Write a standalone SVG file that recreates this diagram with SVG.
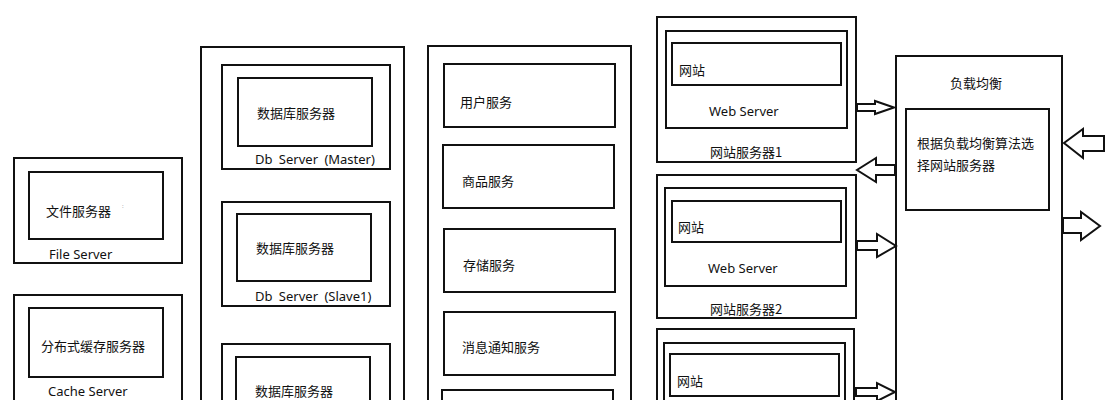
<svg xmlns="http://www.w3.org/2000/svg" width="1116" height="400" viewBox="0 0 1116 400">
<style>
.b{fill:#fff;stroke:#111;stroke-width:2}
.t{font-family:"Noto Sans CJK SC","Noto Sans",sans-serif;font-size:13px;fill:#111}
.e{font-family:"Noto Sans","Open Sans",sans-serif;font-size:13px;fill:#111}
.a{fill:#fff;stroke:#111;stroke-width:2;stroke-linejoin:miter}
</style>
<rect width="1116" height="400" fill="#fff"/>
<g id="file-server">
<rect class="b" x="14" y="158" width="168" height="105"/>
<rect class="b" x="29" y="172" width="134" height="67"/>
<text class="t" x="46" y="216">文件服务器</text>
<text x="122" y="208" font-family="Noto Sans,sans-serif" font-size="6" fill="#999">:</text>
<text class="e" x="49" y="259">File Server</text>
</g>
<g id="cache-server">
<rect class="b" x="14" y="295" width="168" height="115"/>
<rect class="b" x="29" y="308" width="134" height="69"/>
<text class="t" x="41" y="351">分布式缓存服务器</text>
<text class="e" x="48" y="396">Cache Server</text>
</g>
<g id="db-cluster">
<rect class="b" x="201" y="47" width="203" height="370"/>
</g>
<g id="db-master">
<rect class="b" x="222" y="65" width="168" height="104"/>
<rect class="b" x="238" y="78" width="134" height="68"/>
<text class="t" x="257" y="118">数据库服务器</text>
<text class="e" x="255" y="164" word-spacing="3">Db Server (Master)</text>
</g>
<g id="db-slave1">
<rect class="b" x="222" y="202" width="168" height="104"/>
<rect class="b" x="237" y="214" width="134" height="67"/>
<text class="t" x="256" y="253">数据库服务器</text>
<text class="e" x="255" y="301" word-spacing="3">Db Server (Slave1)</text>
</g>
<g id="db-slave2">
<rect class="b" x="222" y="344" width="168" height="80"/>
<rect class="b" x="236" y="357" width="134" height="60"/>
<text class="t" x="255" y="396">数据库服务器</text>
</g>
<g id="service-cluster">
<rect class="b" x="428" y="46" width="203" height="370"/>
</g>
<g id="user-service">
<rect class="b" x="444" y="64" width="171" height="63"/>
<text class="t" x="460" y="107">用户服务</text>
</g>
<g id="product-service">
<rect class="b" x="443" y="145" width="171" height="63"/>
<text class="t" x="462" y="186">商品服务</text>
</g>
<g id="storage-service">
<rect class="b" x="444" y="229" width="171" height="63"/>
<text class="t" x="463" y="270">存储服务</text>
</g>
<g id="message-service">
<rect class="b" x="444" y="312" width="171" height="63"/>
<text class="t" x="462" y="352">消息通知服务</text>
</g>
<g id="service-5">
<rect class="b" x="442" y="390" width="171" height="30"/>
</g>
<g id="web-server-1">
<rect class="b" x="657" y="17" width="199" height="145"/>
<rect class="b" x="666" y="31" width="181" height="97"/>
<rect class="b" x="672" y="43" width="169" height="42"/>
<text class="t" x="679" y="75">网站</text>
<text class="e" x="709" y="116">Web Server</text>
<text class="t" x="710" y="157">网站服务器1</text>
</g>
<g id="web-server-2">
<rect class="b" x="657" y="175" width="199" height="143"/>
<rect class="b" x="665" y="188" width="181" height="98"/>
<rect class="b" x="672" y="201" width="169" height="41"/>
<text class="t" x="678" y="232">网站</text>
<text class="e" x="708" y="273">Web Server</text>
<text class="t" x="710" y="314">网站服务器2</text>
</g>
<g id="web-server-3">
<rect class="b" x="657" y="329" width="197" height="90"/>
<rect class="b" x="664" y="343" width="181" height="70"/>
<rect class="b" x="670" y="354" width="169" height="42"/>
<text class="t" x="677" y="386">网站</text>
</g>
<g id="load-balancer">
<rect class="b" x="896" y="56" width="166" height="360"/>
<text class="t" x="950" y="88">负载均衡</text>
<rect class="b" x="906" y="109" width="143" height="101"/>
<text class="t" x="917" y="148">根据负载均衡算法选</text>
<text class="t" x="917" y="170">择网站服务器</text>
</g>
<g id="connectors">
<polygon class="a" points="857,104 875,104 875,101 894,107.5 875,114 875,111 857,111"/>
<polygon class="a" points="895,165 876,165 876,158 857,170 876,182 876,175 895,175"/>
<polygon class="a" points="857,241 877,241 877,234 896,246 877,257 877,250 857,250"/>
<polygon class="a" points="856,388 877,388 877,383 895,392 877,401 877,396 856,396"/>
<polygon class="a" points="1104,136 1083,136 1083,129 1064,143 1083,158 1083,151 1104,151"/>
<polygon class="a" points="1063,218 1081,218 1081,212 1100,226 1081,240 1081,233 1063,233"/>
</g>
</svg>
